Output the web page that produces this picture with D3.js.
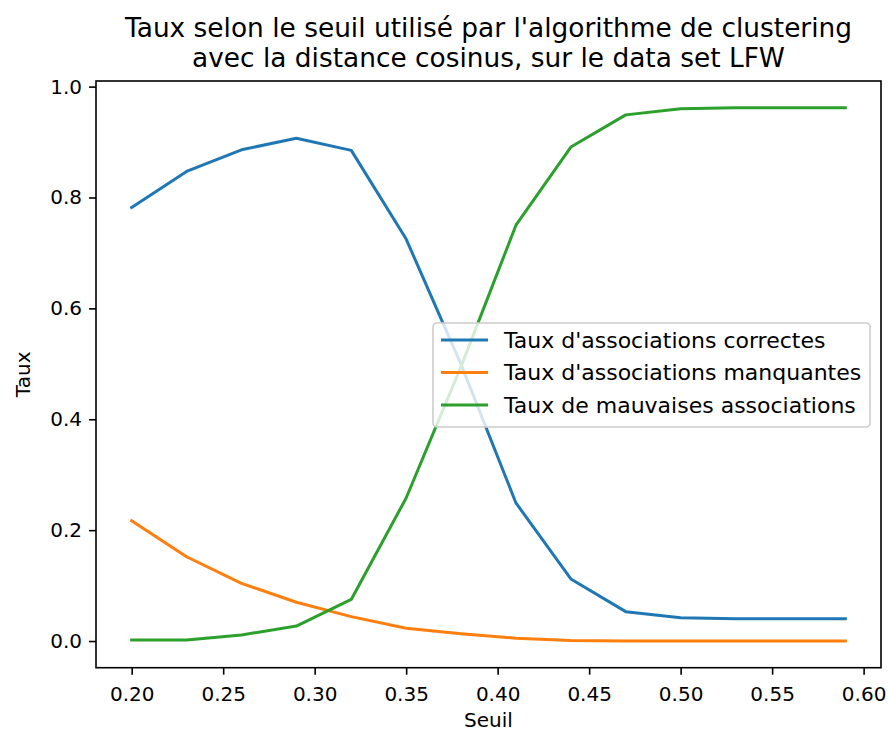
<!DOCTYPE html>
<html>
<head>
<meta charset="utf-8">
<script src="https://cdn.jsdelivr.net/npm/d3@7"></script>
<style>
  body { margin: 0; background: #fff; }
  svg text { font-family: "DejaVu Sans", sans-serif; fill: #000; }
</style>
</head>
<body>
<div id="chart"></div>
<script>
// Seuils testés
const seuils = [0.20, 0.23, 0.26, 0.29, 0.32, 0.35, 0.38, 0.41, 0.44, 0.47, 0.50, 0.53, 0.56, 0.59];

// Taux
const correctes   = [0.782, 0.847, 0.886, 0.907, 0.885, 0.725, 0.499, 0.249, 0.112, 0.053, 0.042, 0.040, 0.040, 0.040];
const manquantes  = [0.217, 0.152, 0.104, 0.070, 0.044, 0.023, 0.013, 0.005, 0.001, 0.000, 0.000, 0.000, 0.000, 0.000];
const mauvaises   = [0.002, 0.002, 0.011, 0.027, 0.075, 0.258, 0.495, 0.750, 0.891, 0.949, 0.960, 0.962, 0.962, 0.962];

const seriesNames = ["Taux d'associations correctes", "Taux d'associations manquantes", "Taux de mauvaises associations"];
const seriesValues = [correctes, manquantes, mauvaises];
const colors = ['#1f77b4', '#ff7f0e', '#2ca02c'];

const xTicks = [0.20, 0.25, 0.30, 0.35, 0.40, 0.45, 0.50, 0.55, 0.60];
const yTicks = [0.0, 0.2, 0.4, 0.6, 0.8, 1.0];

const width = 888, height = 731;
const plot = { left: 96, right: 881, top: 81, bottom: 667.7 };

const svg = d3.select('#chart')
    .append('svg')
    .attr('width', width)
    .attr('height', height);

// matplotlib-like 5% margins
const xExt = d3.extent(seuils);
const xPad = (xExt[1] - xExt[0]) * 0.05;
const allY = seriesValues.flat();
const yExt = [d3.min(allY), d3.max(allY)];
const yPad = (yExt[1] - yExt[0]) * 0.05;

const xScale = d3.scaleLinear()
    .domain([xExt[0] - xPad, xExt[1] + xPad])
    .range([plot.left, plot.right]);
const yScale = d3.scaleLinear()
    .domain([yExt[0] - yPad, yExt[1] + yPad])
    .range([plot.bottom, plot.top]);

// Lines
const line = d3.line()
    .x((d, i) => xScale(seuils[i]))
    .y(d => yScale(d));

svg.append('g')
    .selectAll('path')
    .data(seriesValues)
    .enter()
    .append('path')
    .attr('d', d => line(d))
    .attr('fill', 'none')
    .attr('stroke', (d, i) => colors[i])
    .attr('stroke-width', 3)
    .attr('stroke-linejoin', 'round')
    .attr('stroke-linecap', 'square');

// Axes
const xAxis = svg.append('g')
    .attr('transform', `translate(0,${plot.bottom})`)
    .call(d3.axisBottom(xScale).tickValues(xTicks).tickFormat(d3.format('.2f')).tickSize(7).tickPadding(7));

const yAxis = svg.append('g')
    .attr('transform', `translate(${plot.left},0)`)
    .call(d3.axisLeft(yScale).tickValues(yTicks).tickFormat(d3.format('.1f')).tickSize(7).tickPadding(7));

[xAxis, yAxis].forEach(a => {
    a.select('.domain').remove();
    a.selectAll('.tick line').attr('stroke', '#000').attr('stroke-width', 1.6);
    a.selectAll('.tick text').style('font-size', '20px').attr('fill', '#000');
});
xAxis.selectAll('.tick text').attr('dy', '0.95em');

// Frame (spines)
svg.append('rect')
    .attr('x', plot.left)
    .attr('y', plot.top)
    .attr('width', plot.right - plot.left)
    .attr('height', plot.bottom - plot.top)
    .attr('fill', 'none')
    .attr('stroke', '#000')
    .attr('stroke-width', 1.6);

// Axis labels
svg.append('text')
    .attr('x', (plot.left + plot.right) / 2)
    .attr('y', 727)
    .attr('text-anchor', 'middle')
    .style('font-size', '20px')
    .text('Seuil');

svg.append('text')
    .attr('transform', `translate(30,${(plot.top + plot.bottom) / 2}) rotate(-90)`)
    .attr('text-anchor', 'middle')
    .style('font-size', '20px')
    .text('Taux');

// Title
const title = svg.append('text')
    .attr('text-anchor', 'middle')
    .style('font-size', '26.4px');
title.append('tspan')
    .attr('x', (plot.left + plot.right) / 2)
    .attr('y', 37)
    .text("Taux selon le seuil utilisé par l'algorithme de clustering");
title.append('tspan')
    .attr('x', (plot.left + plot.right) / 2)
    .attr('y', 67)
    .text('avec la distance cosinus, sur le data set LFW');

// Legend (center right)
const legend = { x: 433, y: 323, w: 437, h: 104, rowH: 32.5 };
const lg = svg.append('g');
lg.append('rect')
    .attr('x', legend.x)
    .attr('y', legend.y)
    .attr('width', legend.w)
    .attr('height', legend.h)
    .attr('rx', 4)
    .attr('fill', 'rgba(255,255,255,0.8)')
    .attr('stroke', '#cccccc')
    .attr('stroke-width', 1.6);

const rows = lg.selectAll('.legend-row')
    .data(seriesNames)
    .enter()
    .append('g')
    .attr('class', 'legend-row')
    .attr('transform', (d, i) => `translate(${legend.x},${legend.y + 17 + i * legend.rowH})`);

rows.append('line')
    .attr('x1', 8)
    .attr('x2', 55)
    .attr('stroke', (d, i) => colors[i])
    .attr('stroke-width', 3);

rows.append('text')
    .attr('x', 71)
    .attr('dy', '0.35em')
    .style('font-size', '22px')
    .text(d => d);
</script>
</body>
</html>
